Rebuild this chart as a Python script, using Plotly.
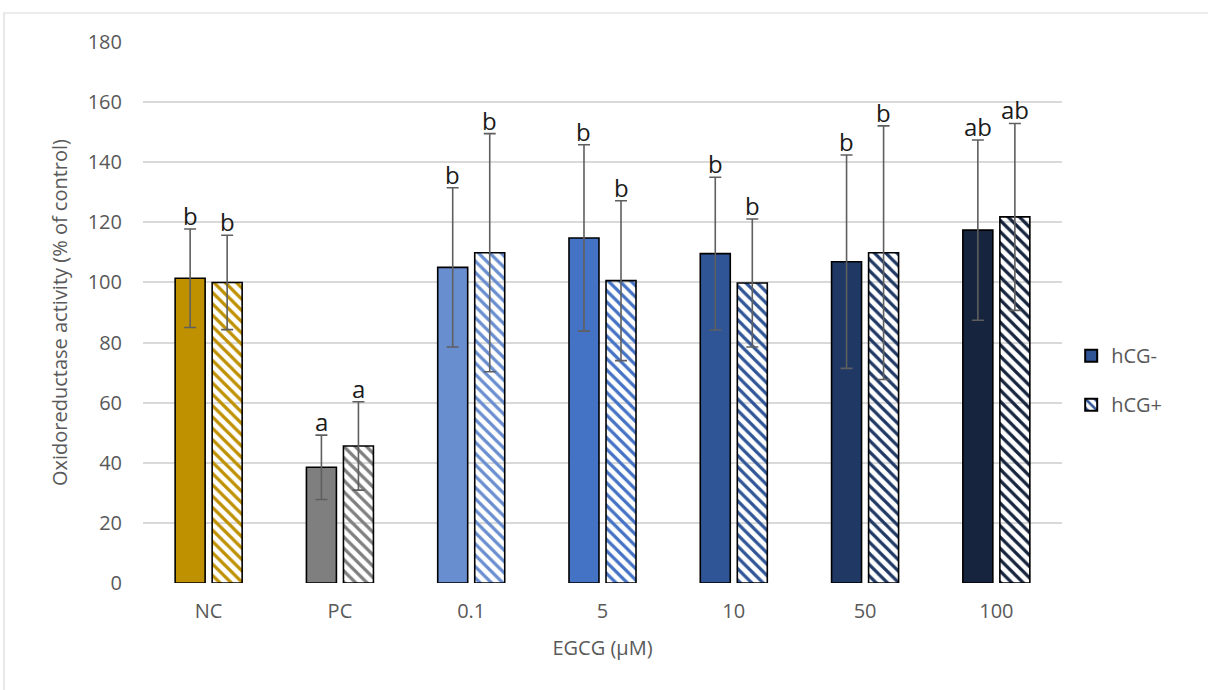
import plotly.graph_objects as go
import numpy as np

categories = ["NC", "PC", "0.1", "5", "10", "50", "100"]
hcg_minus = [101.4, 38.5, 105.0, 114.8, 109.6, 106.9, 117.4]
hcg_minus_err = [16.4, 10.7, 26.5, 31.0, 25.4, 35.5, 30.0]
hcg_plus = [100.0, 45.6, 109.9, 100.6, 99.8, 109.9, 121.8]
hcg_plus_err = [15.7, 14.7, 39.6, 26.6, 21.3, 42.2, 31.1]
labels_minus = ["b", "a", "b", "b", "b", "b", "ab"]
labels_plus = ["b", "a", "b", "b", "b", "b", "ab"]
colors = ["#BF9000", "#7F7F7F", "#698ED0", "#4472C4", "#2F5597", "#203864", "#16243E"]
legend_color = "#2F5597"

x = np.arange(len(categories))
bargap = 0.436
slot = (1 - bargap) / 2

FONT = "Open Sans"
GRAY = "#595959"
PAT_SIZE = 8
PAT_SOLID = 0.4

fig = go.Figure()
fig.add_trace(go.Bar(
    x=x, y=hcg_minus, name="hCG-", showlegend=False, offsetgroup="m",
    marker=dict(color=colors, line=dict(color="black", width=1.6)),
    error_y=dict(type="data", array=hcg_minus_err, color="#5F5F5F", thickness=1.6, width=6),
))
fig.add_trace(go.Bar(
    x=x, y=hcg_plus, name="hCG+", showlegend=False, offsetgroup="p",
    marker=dict(color=colors, line=dict(color="black", width=1.6),
                pattern=dict(shape="\\", fillmode="replace", fgcolor=colors, bgcolor="white",
                             fgopacity=1, size=PAT_SIZE, solidity=PAT_SOLID)),
    error_y=dict(type="data", array=hcg_plus_err, color="#5F5F5F", thickness=1.6, width=6),
))
# legend entries
fig.add_trace(go.Bar(x=[None], y=[None], name="hCG-", offsetgroup="m", legendgroup="m",
                     marker=dict(color=legend_color, line=dict(color="black", width=1.6))))
fig.add_trace(go.Bar(x=[None], y=[None], name="hCG+", offsetgroup="p", legendgroup="p",
                     marker=dict(color=legend_color, line=dict(color="black", width=1.6),
                                 pattern=dict(shape="\\", fillmode="replace", fgcolor=legend_color, bgcolor="white",
                                              fgopacity=1, size=PAT_SIZE, solidity=PAT_SOLID))))

annotations = []
for i in range(len(categories)):
    for off, val, err, lab in ((-slot / 2, hcg_minus[i], hcg_minus_err[i], labels_minus[i]),
                               (slot / 2, hcg_plus[i], hcg_plus_err[i], labels_plus[i])):
        annotations.append(dict(x=x[i] + off, y=val + err, text=lab, showarrow=False,
                                xref="x", yref="y", yanchor="bottom", yshift=-5,
                                font=dict(family=FONT, size=24, color="#1a1a1a")))

fig.update_layout(
    width=1208, height=690,
    margin=dict(l=143, r=146, t=42, b=107),
    paper_bgcolor="white", plot_bgcolor="white",
    barmode="group", bargap=bargap, bargroupgap=0.19,
    font=dict(family=FONT, size=20, color=GRAY),
    xaxis=dict(range=[-0.5, len(categories) - 0.5], tickvals=x, ticktext=categories,
               showgrid=False, zeroline=False, showline=False, ticks="",
               ticklabelstandoff=14,
               tickfont=dict(size=20, color=GRAY),
               title=dict(text="EGCG (µM)", font=dict(size=20, color=GRAY), standoff=17)),
    yaxis=dict(range=[0, 180], dtick=20, showgrid=True, gridcolor="#D9D9D9", gridwidth=1.5,
               zeroline=False, showline=False, ticks="", ticklabelstandoff=20,
               tickfont=dict(size=20, color=GRAY),
               title=dict(text="Oxidoreductase activity (% of control)", font=dict(size=20, color=GRAY), standoff=14)),
    legend=dict(x=1.01, y=0.375, xanchor="left", yanchor="middle", font=dict(size=20, color=GRAY),
                tracegroupgap=20, traceorder="grouped", itemsizing="constant", bgcolor="rgba(0,0,0,0)"),
    annotations=annotations,
    shapes=[dict(type="rect", xref="paper", yref="paper",
                 x0=(4 - 143) / 919, x1=(1215 - 143) / 919,
                 y0=(583 - 700) / 541, y1=(583 - 13) / 541,
                 line=dict(color="#D9D9D9", width=1.2), fillcolor="rgba(0,0,0,0)", layer="below")],
)

fig.write_html("out.html")
